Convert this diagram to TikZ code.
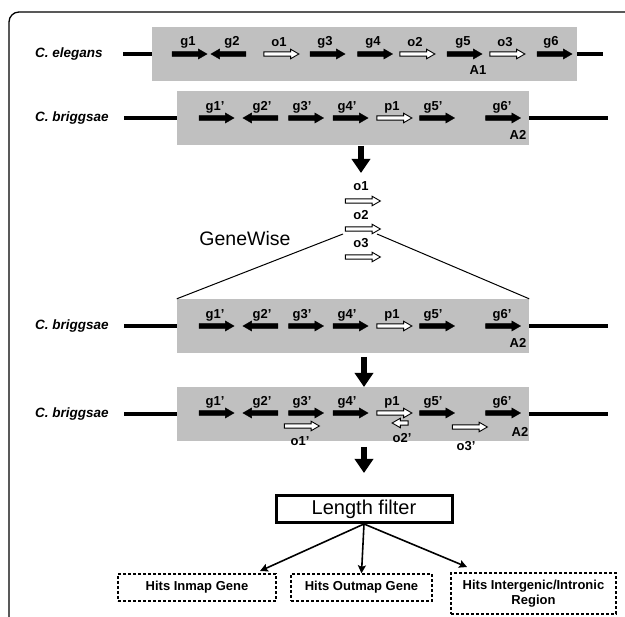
\documentclass[tikz,border=0pt]{standalone}
\usepackage{fontspec}
\setmainfont{Liberation Sans}
\usetikzlibrary{shapes.arrows,arrows.meta}
\definecolor{regiongray}{RGB}{192,192,192}

\begin{document}
\begin{tikzpicture}[x=1pt, y=-1pt,
    region/.style={rectangle, fill=regiongray, inner sep=0pt},
    chrom/.style={line width=3.5pt},
    species/.style={anchor=west, inner sep=0pt, font=\fontsize{13.5}{14}\selectfont\bfseries\itshape},
    glab/.style={inner sep=0pt, font=\fontsize{13}{13}\selectfont\bfseries},
    gene/.style={single arrow, draw=black, fill=black, line width=0.4pt, minimum height=35pt,
        inner xsep=0pt, inner ysep=2.2pt, single arrow head extend=2.6pt, single arrow tip angle=60},
    orth/.style={gene, fill=white, line width=0.9pt, inner ysep=1.7pt},
    rev/.style={shape border rotate=180},
    bigarr/.style={line width=6pt, -{Triangle[length=14pt, width=18pt]}},
    hit/.style={draw, line width=1.3pt, dash pattern=on 3pt off 2pt, inner sep=0pt, align=center,
        font=\fontsize{13}{15}\selectfont\bfseries},
    fan/.style={line width=1.6pt, -{Stealth[length=8pt, width=8pt, inset=1.5pt]}}]
    \useasboundingbox (0,0) rectangle (625,617);

    % frame
    \draw[line width=1.3pt, rounded corners=10pt] (9,617) -- (9,12) -- (625,12);

    % C. elegans
    \node[species] (sp1) at (35,54) {C. elegans};
    \node[region, minimum width=425pt, minimum height=54pt] (box1) at (364.5,54) {};
    \coordinate (l1) at (123,54);
    \coordinate (r1) at (603,54);
    \draw[chrom] (l1) -- (box1.west);
    \draw[chrom] (box1.east) -- (r1);
    \node[gene] (eg1) at (187.5,54) {};
    \node[gene, rev] (eg2) at (230.5,54) {};
    \node[orth] (eo1) at (279.5,54) {};
    \node[gene] (eg3) at (325.5,54) {};
    \node[gene] (eg4) at (373,54) {};
    \node[orth] (eo2) at (415.5,54) {};
    \node[gene] (eg5) at (462.5,54) {};
    \node[orth] (eo3) at (505.5,54) {};
    \node[gene] (eg6) at (552.5,54) {};
    \node[glab] (teg1) at (188,42) {g1};
    \node[glab] (teg2) at (232,42) {g2};
    \node[glab] (teo1) at (279,42) {o1};
    \node[glab] (teg3) at (325,42) {g3};
    \node[glab] (teg4) at (373,42) {g4};
    \node[glab] (teo2) at (415,42) {o2};
    \node[glab] (teg5) at (463,42) {g5};
    \node[glab] (teo3) at (505,42) {o3};
    \node[glab] (teg6) at (551,42) {g6};
    \node[glab] (a1) at (478,70) {A1};

    % C. briggsae
    \node[species] (sp2) at (35,118) {C. briggsae};
    \node[region, minimum width=352pt, minimum height=54pt] (box2) at (353,118) {};
    \coordinate (l2) at (124,118);
    \coordinate (r2) at (608,118);
    \draw[chrom] (l2) -- (box2.west);
    \draw[chrom] (box2.east) -- (r2);
    \node[gene] (bg1) at (214.5,118) {};
    \node[gene, rev] (bg2) at (262.5,118) {};
    \node[gene] (bg3) at (304,118) {};
    \node[gene] (bg4) at (348.5,118) {};
    \node[orth] (bp1) at (392.5,118) {};
    \node[gene] (bg5) at (435,118) {};
    \node[gene] (bg6) at (501,118) {};
    \node[glab] (tbg1) at (215,107) {g1’};
    \node[glab] (tbg2) at (262,107) {g2’};
    \node[glab] (tbg3) at (302,107) {g3’};
    \node[glab] (tbg4) at (347,107) {g4’};
    \node[glab] (tbp1) at (392,107) {p1};
    \node[glab] (tbg5) at (433,107) {g5’};
    \node[glab] (tbg6) at (502,107) {g6’};
    \node[glab] (a2b) at (518,135) {A2};

    % orthologs sent to GeneWise
    \coordinate (d1a) at (361,146);
    \coordinate (d1b) at (361,173);
    \draw[bigarr] (d1a) -- (d1b);
    \node[glab] (tmo1) at (361,186) {o1};
    \node[orth] (mo1) at (361,201) {};
    \node[glab] (tmo2) at (361,215) {o2};
    \node[orth] (mo2) at (361,229) {};
    \node[glab] (tmo3) at (361,243) {o3};
    \node[orth] (mo3) at (361,257) {};
    \node[inner sep=0pt, font=\fontsize{19.5}{20}\selectfont] (gw) at (245,239) {GeneWise};
    \coordinate (gwl) at (343,234);
    \coordinate (gwr) at (377,234);

    % C. briggsae, searched
    \node[species] (sp3) at (35,326) {C. briggsae};
    \node[region, minimum width=352pt, minimum height=54pt] (box3) at (353,326) {};
    \draw[line width=1pt] (gwl) -- (box3.north west);
    \draw[line width=1pt] (gwr) -- (box3.north east);
    \coordinate (l3) at (124,326);
    \coordinate (r3) at (608,326);
    \draw[chrom] (l3) -- (box3.west);
    \draw[chrom] (box3.east) -- (r3);
    \node[gene] (cg1) at (214.5,326) {};
    \node[gene, rev] (cg2) at (262.5,326) {};
    \node[gene] (cg3) at (304,326) {};
    \node[gene] (cg4) at (348.5,326) {};
    \node[orth] (cp1) at (392.5,326) {};
    \node[gene] (cg5) at (435,326) {};
    \node[gene] (cg6) at (501,326) {};
    \node[glab] (tcg1) at (215,315) {g1’};
    \node[glab] (tcg2) at (262,315) {g2’};
    \node[glab] (tcg3) at (302,315) {g3’};
    \node[glab] (tcg4) at (347,315) {g4’};
    \node[glab] (tcp1) at (392,315) {p1};
    \node[glab] (tcg5) at (433,315) {g5’};
    \node[glab] (tcg6) at (502,315) {g6’};
    \node[glab] (a2c) at (518,343) {A2};

    \coordinate (d2a) at (364,357);
    \coordinate (d2b) at (364,387);
    \draw[bigarr] (d2a) -- (d2b);

    % C. briggsae, with hits
    \node[species] (sp4) at (35,414) {C. briggsae};
    \node[region, minimum width=352pt, minimum height=54pt] (box4) at (353,414) {};
    \coordinate (l4) at (124,414);
    \coordinate (r4) at (608,414);
    \draw[chrom] (l4) -- (box4.west);
    \draw[chrom] (box4.east) -- (r4);
    \node[gene] (dg1) at (214.5,413) {};
    \node[gene, rev] (dg2) at (262.5,413) {};
    \node[gene] (dg3) at (304,413) {};
    \node[gene] (dg4) at (348.5,413) {};
    \node[orth] (dp1) at (392.5,413) {};
    \node[gene] (dg5) at (435,413) {};
    \node[gene] (dg6) at (501,413) {};
    \node[glab] (tdg1) at (215,402) {g1’};
    \node[glab] (tdg2) at (262,402) {g2’};
    \node[glab] (tdg3) at (302,402) {g3’};
    \node[glab] (tdg4) at (347,402) {g4’};
    \node[glab] (tdp1) at (392,402) {p1};
    \node[glab] (tdg5) at (433,402) {g5’};
    \node[glab] (tdg6) at (502,402) {g6’};
    \node[glab] (a2d) at (520,432) {A2};
    \node[orth] (do1) at (300,426) {};
    \node[orth, rev, minimum height=16pt] (do2) at (402,423) {};
    \node[orth] (do3) at (468,427) {};
    \node[glab] (tdo1) at (300,441) {o1’};
    \node[glab] (tdo2) at (402,438) {o2’};
    \node[glab] (tdo3) at (466,446) {o3’};

    \coordinate (d3a) at (364,447);
    \coordinate (d3b) at (364,473);
    \draw[bigarr] (d3a) -- (d3b);

    % filter and classes of hits
    \node[draw, line width=3pt, minimum width=176pt, minimum height=27pt, inner sep=0pt,
        font=\fontsize{20}{21}\selectfont] (lf) at (364,509) {Length filter};
    \node[hit, minimum width=158pt, minimum height=27pt] (inmap) at (197,587.5) {Hits Inmap Gene};
    \node[hit, minimum width=141pt, minimum height=27pt] (outmap) at (361.5,587.5) {Hits Outmap Gene};
    \node[hit, minimum width=165pt, minimum height=41pt] (inter) at (533.5,593.5) {Hits Intergenic/Intronic\\Region};
    \coordinate (h1) at (260,571);
    \coordinate (h3) at (467,567);
    \draw[fan] (lf.south) -- (h1);
    \draw[fan] (lf.south) -- (outmap.north);
    \draw[fan] (lf.south) -- (h3);
\end{tikzpicture}
\end{document}
